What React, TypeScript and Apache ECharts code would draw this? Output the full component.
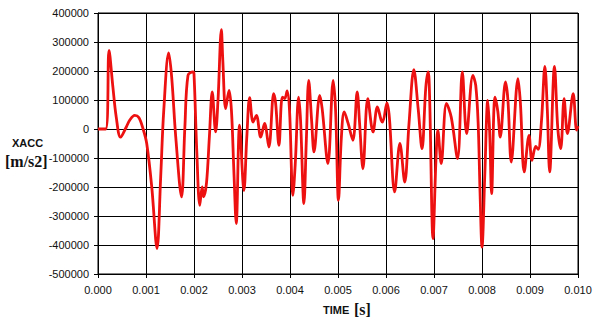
import React, { useEffect, useRef } from "react";
import * as echarts from "echarts";

// time in ms (converted to seconds below), acceleration in m/s2
const timeMs: number[] = [
  0, 0.16, 0.23, 0.31, 0.38, 0.47, 0.59, 0.66, 0.765, 0.85, 0.94, 1.015, 1.12, 1.23, 1.306, 1.37, 1.473, 1.535, 1.62, 1.74,
  1.81, 1.875, 1.98, 2.0, 2.06, 2.12, 2.17, 2.2, 2.26, 2.32, 2.38, 2.45, 2.5, 2.57, 2.6, 2.66, 2.73, 2.78, 2.83, 2.88,
  2.95, 3.04, 3.1, 3.16, 3.23, 3.3, 3.39, 3.47, 3.56, 3.66, 3.7, 3.77, 3.84, 3.89, 3.94, 3.99, 4.06, 4.11, 4.18, 4.22,
  4.29, 4.34, 4.39, 4.45, 4.5, 4.62, 4.67, 4.79, 4.9, 4.95, 5.01, 5.07, 5.13, 5.21, 5.31, 5.4, 5.45, 5.52, 5.62, 5.73,
  5.82, 5.9, 5.93, 6.02, 6.07, 6.18, 6.29, 6.39, 6.48, 6.58, 6.67, 6.75, 6.83, 6.88, 6.91, 6.98, 7.04, 7.08, 7.15, 7.26,
  7.36, 7.49, 7.59, 7.68, 7.81, 7.87, 7.92, 7.96, 8.0, 8.06, 8.12, 8.16, 8.2, 8.27, 8.33, 8.38, 8.49, 8.54, 8.61, 8.75,
  8.8, 8.88, 8.98, 9.04, 9.12, 9.17, 9.24, 9.31, 9.36, 9.41, 9.51, 9.58, 9.64, 9.71, 9.78, 9.9, 9.97, 10.0,
];
const xacc: number[] = [
  0, 0, 271000, 145000, 41000, -28000, 7000, 30000, 47000, 40000, 0, -50000, -200000, -412000, -165000, 64000, 262000, 179000, -28000, -234000,
  7000, 185000, 197000, 190000, -85000, -263000, -200000, -234000, -187000, -28000, 128000, -10000, 99000, 343000, 237000, 70000, 133000, 64000, -142000, -326000,
  13000, -212000, -28000, 108000, 24000, 47000, -28000, 19000, -62000, 122000, 90000, -56000, 110000, 105000, 131000, 64000, -229000, -119000, 110000, 30000,
  -257000, -40000, 168000, 30000, -79000, 116000, 70000, -119000, 168000, 64000, -246000, -30000, 59000, 20000, -39000, 128000, 19000, -137000, 105000, -10000,
  76000, 30000, 24000, 90000, 40000, -217000, -50000, -183000, 20000, 205000, 70000, -68000, 145000, 197000, 100000, -378000, -110000, -4000, -119000, 88000,
  40000, -102000, 197000, -16000, 185000, 150000, 19000, -223000, -407000, -150000, 99000, -10000, -223000, 110000, 60000, -28000, 162000, 100000, -114000, 174000,
  90000, -148000, -22000, -108000, -60000, -70000, 30000, 216000, 70000, -148000, 216000, 0, -68000, 105000, -16000, 122000, -4000, 10000,
];
const xTicks = { min: 0, max: 0.01, interval: 0.001 };
const yTicks = { min: -500000, max: 400000, interval: 100000 };

export default function App() {
  const ref = useRef<HTMLDivElement>(null);
  useEffect(() => {
    if (!ref.current) return;
    const chart = echarts.init(ref.current, null, { renderer: "svg" });
    const data = timeMs.map((t, i) => [t / 1000, xacc[i]]);
    chart.setOption({
      animation: false,
      backgroundColor: "#ffffff",
      grid: { left: 98, top: 13, right: 17, bottom: 53, show: true, borderColor: "#000", borderWidth: 1 },
      xAxis: {
        type: "value",
        min: xTicks.min,
        max: xTicks.max,
        interval: xTicks.interval,
        axisLine: { onZero: false, lineStyle: { color: "#000", width: 1 } },
        axisTick: { show: true, length: 4, lineStyle: { color: "#000" } },
        axisLabel: {
          color: "#111",
          fontFamily: "Arial, 'Liberation Sans', sans-serif",
          fontSize: 11,
          margin: 10,
          formatter: (v: number) => v.toFixed(3),
        },
        splitLine: { show: true, lineStyle: { color: "#000", width: 1 } },
      },
      yAxis: {
        type: "value",
        min: yTicks.min,
        max: yTicks.max,
        interval: yTicks.interval,
        axisLine: { show: true, lineStyle: { color: "#000", width: 1 } },
        axisTick: { show: true, length: 4, lineStyle: { color: "#000" } },
        axisLabel: {
          color: "#111",
          fontFamily: "Arial, 'Liberation Sans', sans-serif",
          fontSize: 11,
          margin: 9,
          formatter: (v: number) => String(v),
        },
        splitLine: { show: true, lineStyle: { color: "#000", width: 1 } },
      },
      graphic: [
        {
          type: "text",
          left: 12,
          top: 137,
          style: { text: "XACC", font: "bold 11px Arial, 'Liberation Sans', sans-serif", fill: "#111" },
        },
        {
          type: "text",
          left: 5,
          top: 153,
          style: { text: "[m/s2]", font: "bold 16px 'Times New Roman', 'Liberation Serif', serif", fill: "#111" },
        },
        {
          type: "text",
          left: 323,
          top: 304,
          style: { text: "TIME", font: "bold 11px Arial, 'Liberation Sans', sans-serif", fill: "#111" },
        },
        {
          type: "text",
          left: 354,
          top: 301,
          style: { text: "[s]", font: "bold 16px 'Times New Roman', 'Liberation Serif', serif", fill: "#111" },
        },
      ],
      series: [
        {
          type: "line",
          data,
          showSymbol: false,
          smooth: 0.35,
          lineStyle: { color: "#ee1111", width: 2.8 },
          itemStyle: { color: "#ee1111" },
        },
      ],
    });
    return () => chart.dispose();
  }, []);
  return (
    <div
      ref={ref}
      style={{ position: "absolute", left: 0, top: 0, width: 595, height: 327 }}
    />
  );
}
